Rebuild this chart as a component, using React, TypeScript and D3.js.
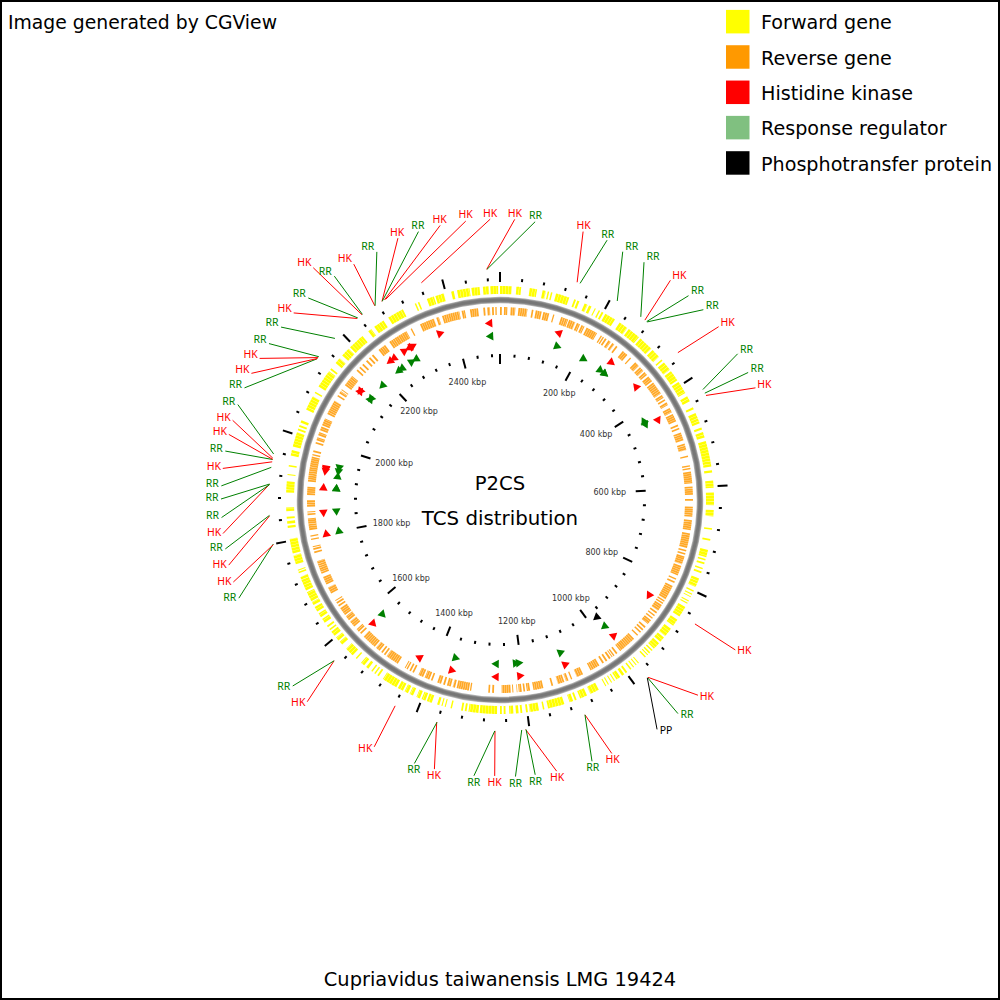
import React, { useEffect, useRef } from 'react';
import * as d3 from 'd3';

const genomeKbp = 2502;
const tickStep = 40;
const majorEvery = 200;

const legendNames = ['Forward gene', 'Reverse gene', 'Histidine kinase', 'Response regulator', 'Phosphotransfer protein'];
const legendColors = ['#ffff00', '#ff9900', '#ff0000', '#80c080', '#000000'];

// Gene blocks, degrees clockwise from the origin
const forwardGenes = [
  [0, 3.2], [4.4, 5.7], [8, 10], [11.5, 12.4], [12.9, 13.3], [13.8, 14.2], [15.2, 18.9], [20.3, 20.8], [21.2, 21.8],
  [23.3, 24.2], [24.6, 25.4], [26.3, 26.6], [27.5, 27.9], [28.4, 28.9], [29.5, 32.5], [34, 36.5], [37, 40.5], [41, 45],
  [45.5, 48], [49, 49.4], [50, 52.5], [53, 56], [56.5, 60], [61, 62.5], [64.3, 64.9], [66, 69], [70.2, 70.8], [71.5, 73],
  [74, 81], [82, 82.6], [84.8, 86.7], [88, 91.4], [92.7, 94.4], [97.6, 98], [100.5, 101], [103.5, 105.5], [106, 106.4],
  [107, 107.5], [108.5, 108.9], [109.5, 110], [111.5, 114], [115, 115.4], [116, 116.3], [116.8, 117], [118, 118.3],
  [118.7, 119], [120, 123], [124, 126], [127, 129.5], [130, 131.5], [132, 134], [134.5, 134.9], [135.4, 135.8], [136.2, 136.5],
  [137, 137.4], [139.5, 139.8], [140.3, 140.6], [141.2, 141.5], [142.1, 142.5], [143.5, 144], [144.5, 145.2], [145.8, 147],
  [147.5, 147.8], [148.4, 148.7], [149.4, 149.7], [150.2, 150.5], [152.5, 155], [156, 158], [159, 159.5], [160, 161],
  [162.5, 167], [168, 168.4], [169.5, 172], [172.5, 173], [174, 174.5], [175, 175.8], [176.4, 177.5], [178.5, 179], [179.5, 180],
  [180.8, 185.5], [185.8, 188.5], [189, 189.5], [190, 190.5], [193, 193.4], [194.7, 195], [195.6, 195.9], [196.5, 197.1],
  [198.6, 200], [200.4, 201.5], [202, 203], [204, 205], [205.5, 206.5], [207, 208.5], [209, 213.2], [214.5, 215], [215.6, 216],
  [216.6, 217], [218, 218.8], [219.4, 220.5], [222, 222.4], [223.5, 226], [227.5, 228.5], [229, 230], [230.6, 232],
  [232.5, 232.9], [233.5, 234], [235, 236.2], [236.8, 238], [238.6, 240], [240.6, 241.5], [241.8, 244.5], [245, 249],
  [250, 250.4], [250.7, 251], [252.5, 255], [255.5, 259.5], [262.5, 263.1], [263.6, 264.4], [265, 265.5], [267, 268],
  [272, 275], [276.7, 277], [279, 279.4], [282, 283.5], [284.5, 288.5], [289, 289.5], [290, 290.5], [291.2, 292], [295, 299],
  [300, 300.4], [302, 307], [307.5, 308], [309.8, 311.5], [312.5, 315], [315.5, 320], [322, 323], [324, 327], [328.5, 333],
  [336.5, 336.9], [337.4, 337.8], [340, 342], [342.4, 344.8], [346.8, 347.5], [348.4, 351.8], [352.3, 354.5], [355.4, 357], [357.4, 359.5]
];

const reverseGenes = [
  [0, 0.6], [1.2, 2.2], [3.2, 4.6], [5.5, 8.2], [9.5, 10], [10.7, 12.5], [13, 14.8], [16, 16.4], [18.5, 20.7], [21, 23], [23.5, 24.5],
  [25, 26], [26.7, 30.2], [31.5, 31.9], [32.2, 32.6], [33, 33.6], [34.2, 35], [35.6, 36.3], [37, 37.5], [39.5, 41.3], [42.4, 42.8],
  [44.5, 46], [46.5, 48], [48.5, 49.6], [50.2, 52], [52.5, 56.5], [57, 58], [58.5, 59], [59.6, 60.5], [61.5, 63], [63.5, 66],
  [67, 67.5], [68, 68.5], [69.5, 72], [73, 75], [76.7, 77.1], [79.6, 80], [80.4, 80.8], [81.5, 85], [86, 88.5], [89.7, 90.2],
  [92, 95], [96, 99], [100, 104.5], [105, 105.5], [106, 106.5], [107, 107.5], [107.5, 109.5], [110, 113], [114, 114.4], [115, 115.5],
  [116.5, 121], [121.4, 121.8], [122.2, 122.6], [123, 125], [125.5, 126], [126.6, 127], [127.6, 128], [128.5, 130], [131, 131.5],
  [132, 132.5], [133, 133.5], [134.3, 134.7], [136, 141.5], [142.5, 143], [143.6, 144], [144.3, 144.6], [145, 145.6], [146.2, 146.8],
  [147.4, 148], [149, 152], [154.5, 156.5], [158, 158.4], [159.2, 160], [160.5, 162.5], [164, 164.5], [167, 170], [171, 172],
  [172.5, 173], [173.5, 174.4], [174.8, 175], [176, 176.3], [176.8, 179.5], [181.8, 182.4], [183, 183.5], [188.6, 189], [189.3, 193],
  [193.5, 194.2], [194.8, 196], [196.6, 197.2], [197.8, 199], [200.5, 201], [201.5, 203], [203.5, 205], [206.5, 207], [207.5, 208],
  [208.6, 209], [209.3, 209.6], [212, 216], [216.5, 217], [217.5, 218], [218.6, 220], [220.5, 225], [226, 226.5], [227, 228],
  [229, 231], [231.5, 233], [233.4, 236], [236.5, 237], [237.5, 238], [238.4, 238.7], [241, 243], [244, 246.5], [247.5, 251.5],
  [254, 254.5], [255, 255.5], [255.8, 256.1], [258, 258.4], [259, 259.4], [261, 264.5], [265.5, 266], [266.3, 266.6], [268, 270],
  [271.5, 274], [275.5, 283], [283.4, 283.8], [284.4, 285], [287, 287.5], [288, 289], [289.6, 290.6], [291.2, 292.4], [292.8, 295],
  [296.5, 301], [302.5, 303], [303.6, 304.4], [304.7, 305], [306.5, 310], [312, 312.5], [313.2, 313.7], [314.4, 315], [316, 316.6],
  [317.2, 317.8], [318.4, 319], [321, 323.5], [325, 331], [332.4, 332.8], [335.5, 340], [340.7, 341.5], [342.5, 347.8], [348.5, 349.5],
  [351, 353.5], [355, 355.6], [356.2, 357], [357.6, 358.2], [358.6, 359]
];

// Two-component genes, clockwise, with their callouts
const tcsTypes = [
  'HK', 'RR', 'RR', 'RR', 'HK', 'RR', 'RR', 'HK', 'RR', 'RR', 'HK', 'HK', 'HK', 'RR', 'PP', 'HK', 'RR', 'HK', 'RR', 'RR',
  'HK', 'RR', 'HK', 'RR', 'HK', 'HK', 'RR', 'RR', 'HK', 'HK', 'RR', 'HK', 'RR', 'RR', 'RR', 'HK', 'RR', 'HK', 'HK', 'RR',
  'RR', 'HK', 'HK', 'RR', 'RR', 'HK', 'RR', 'HK', 'RR', 'HK', 'RR', 'HK', 'RR', 'HK', 'HK', 'HK', 'HK', 'RR'
];
const tcsKbp = [
  135.6, 141, 212, 261, 270, 274, 275, 350, 427, 434, 438.5, 851, 974, 975, 975.6, 1101, 1101, 1206.6, 1206, 1213.5,
  1259.6, 1260, 1361.5, 1361, 1438.6, 1570, 1570, 1800, 1799, 1849, 1850, 1903.6, 1903, 1904, 1933, 1942.6, 1946.7, 1947, 1949, 1956.4,
  2138.5, 2139, 2141, 2143, 2185, 2236.5, 2238, 2247, 2248, 2274, 2274.5, 2288.5, 2289, 2293.5, 2296, 2363.7, 2479, 2479.5
];
// 1 clockwise, -1 counter-clockwise
const tcsStrand = [
  -1, 1, 1, 1, 1, 1, 1, -1, -1, 1, 1, 1, -1, 1, 1, -1, -1, -1, -1, -1,
  1, 1, -1, -1, 1, -1, -1, 1, 1, -1, -1, 1, 1, 1, 1, -1, -1, -1, -1, -1,
  1, 1, -1, -1, -1, -1, -1, -1, -1, 1, 1, -1, -1, 1, 1, 1, -1, -1
];
const calloutDeg = [
  17.2, 22.4, 26.3, 31.2, 37.8, 42.7, 46.9, 51.6, 58.4, 62.8, 66.3, 122.5, 134.6, 140.2, 145.6, 156.2, 160.6, 168.2, 172.7, 176.8,
  181.1, 185.4, 193.7, 198, 207, 223.7, 228.1, 249.4, 252.9, 256.5, 259.9, 263.1, 266.4, 270.2, 272.9, 276.5, 280.1, 283.6, 286.6, 290,
  293.7, 297, 300.5, 304.1, 308.3, 312.2, 316.5, 321.2, 323.5, 328.2, 333.6, 338.7, 343.1, 347.7, 353, 358, 3, 7.2
];
const calloutR = [
  281, 281, 277, 278, 278, 278, 278.5, 279, 279, 279, 279, 279, 278, 278, 278, 277, 277, 277, 277, 277,
  276, 277, 277, 277, 277, 279, 278.5, 279, 279, 279, 279, 279, 279, 279, 279, 279, 279, 279, 279, 279,
  279, 279, 279, 279, 279, 278.5, 278.5, 298, 278.5, 277.5, 277, 281, 280.5, 281, 281, 281, 281, 280.5
];

const typeColor: Record<string, string> = { HK: '#ff0000', RR: '#008000', PP: '#000000' };
const typeRadius: Record<string, number> = { HK: 177, RR: 164, PP: 152 };

export default function App() {
  const svgRef = useRef<SVGSVGElement>(null);

  useEffect(() => {
    if (!svgRef.current) return;
    document.body.style.margin = '0';

    const font = '"DejaVu Sans", sans-serif';
    const svgRoot = d3.select(svgRef.current);
    svgRoot.selectAll('*').remove();

    svgRoot.append('rect')
      .attr('x', 1).attr('y', 1)
      .attr('width', 998).attr('height', 998)
      .attr('fill', 'white')
      .attr('stroke', 'black')
      .attr('stroke-width', 2);

    // Corner and footer text
    svgRoot.append('text')
      .attr('x', 8).attr('y', 29)
      .style('font-family', font).style('font-size', '18.8px')
      .text('Image generated by CGView');

    svgRoot.append('text')
      .attr('x', 500).attr('y', 986)
      .attr('text-anchor', 'middle')
      .style('font-family', font).style('font-size', '19.4px')
      .text('Cupriavidus taiwanensis LMG 19424');

    // Legend
    const legendY = d3.scalePoint<string>().domain(legendNames).range([21.7, 163]);
    const legend = svgRoot.append('g')
      .selectAll('g')
      .data(legendNames)
      .enter()
      .append('g')
      .attr('transform', (d) => 'translate(726,' + legendY(d) + ')');
    legend.append('rect')
      .attr('x', 0).attr('y', -11.8)
      .attr('width', 23.5).attr('height', 23.5)
      .attr('fill', (d, i) => legendColors[i]);
    legend.append('text')
      .attr('x', 35).attr('y', 1)
      .attr('dy', '0.35em')
      .style('font-family', font).style('font-size', '19.15px')
      .text((d) => d);

    // Map
    const svg = svgRoot.append('g').attr('transform', 'translate(500,500)');
    const kbpAngle = d3.scaleLinear().domain([0, genomeKbp]).range([0, 2 * Math.PI]);
    const degAngle = d3.scaleLinear().domain([0, 360]).range([0, 2 * Math.PI]);

    // Gene bands are stroked so that the dash leaves hairlines between the genes
    const geneBand = (r: number) => (d: number[]) => {
      const path = d3.path();
      path.arc(0, 0, r, degAngle(d[0]) - Math.PI / 2, degAngle(d[1]) - Math.PI / 2);
      return path.toString();
    };

    svg.append('g').selectAll('path')
      .data(forwardGenes).enter().append('path')
      .attr('d', geneBand(210))
      .attr('fill', 'none')
      .attr('stroke', '#ffff00')
      .attr('stroke-width', 8)
      .attr('stroke-dasharray', '2.6 0.3');

    svg.append('g').selectAll('path')
      .data(reverseGenes).enter().append('path')
      .attr('d', geneBand(189))
      .attr('fill', 'none')
      .attr('stroke', '#ff9900')
      .attr('stroke-width', 8)
      .attr('stroke-opacity', 0.85)
      .attr('stroke-dasharray', '1.8 0.3');

    // Backbone, soft at the edges
    [[6.5, '#b4b4b4'], [5, '#8c8c8c'], [3, '#777777']].forEach(([w, c]) => {
      svg.append('circle')
        .attr('r', 200)
        .attr('fill', 'none')
        .attr('stroke', c as string)
        .attr('stroke-width', w as number);
    });

    // Tick marks on the two rulers
    const tickKbp = d3.range(0, genomeKbp, tickStep);
    const drawRuler = (minor: number[], major: number[]) => {
      svg.append('g').selectAll('line')
        .data(tickKbp).enter().append('line')
        .each(function (d) {
          const a = kbpAngle(d);
          const [r0, r1] = d % majorEvery === 0 ? major : minor;
          const p0 = d3.pointRadial(a, r0);
          const p1 = d3.pointRadial(a, r1);
          d3.select(this)
            .attr('x1', p0[0]).attr('y1', p0[1])
            .attr('x2', p1[0]).attr('y2', p1[1]);
        })
        .attr('stroke', 'black')
        .attr('stroke-width', 2);
    };
    drawRuler([219, 222], [218, 228]);
    drawRuler([143, 146], [136, 146]);

    // Ruler labels sit inside the inner ruler
    svg.append('g').selectAll('text')
      .data(tickKbp.filter((d) => d > 0 && d % majorEvery === 0))
      .enter().append('text')
      .each(function (d) {
        const a = kbpAngle(d);
        const s = Math.sin(a);
        const c = Math.cos(a);
        const p = d3.pointRadial(a, 135);
        d3.select(this)
          .attr('x', p[0] - 25 * s * Math.abs(s))
          .attr('y', p[1] + 13 * c);
      })
      .attr('text-anchor', 'middle')
      .attr('dy', '0.35em')
      .attr('fill', '#333333')
      .style('font-family', font)
      .style('font-size', '8px')
      .text((d) => d + ' kbp');

    const tcs = tcsKbp.map((kbp, i) => ({
      kbp,
      type: tcsTypes[i],
      strand: tcsStrand[i],
      deg: calloutDeg[i],
      r: calloutR[i]
    }));

    // Arrowheads on the feature tracks
    const arrow = d3.symbol().type(d3.symbolTriangle).size(32);
    svg.append('g').selectAll('path')
      .data(tcs).enter().append('path')
      .attr('d', arrow())
      .attr('fill', (d) => typeColor[d.type])
      .attr('transform', (d) => {
        const a = kbpAngle(d.kbp);
        const p = d3.pointRadial(a, typeRadius[d.type]);
        const deg = (a * 180) / Math.PI + (d.strand > 0 ? 90 : -90);
        return 'translate(' + p[0] + ',' + p[1] + ') rotate(' + deg + ')';
      });

    // Leader lines and labels
    svg.append('g').selectAll('line')
      .data(tcs).enter().append('line')
      .each(function (d) {
        const p0 = d3.pointRadial(kbpAngle(d.kbp), 231);
        const p1 = d3.pointRadial(degAngle(d.deg), d.r);
        d3.select(this)
          .attr('x1', p0[0]).attr('y1', p0[1])
          .attr('x2', p1[0]).attr('y2', p1[1]);
      })
      .attr('stroke', (d) => typeColor[d.type])
      .attr('stroke-width', 1);

    svg.append('g').selectAll('text')
      .data(tcs).enter().append('text')
      .each(function (d) {
        const a = degAngle(d.deg);
        const s = Math.sin(a);
        const c = Math.cos(a);
        const p = d3.pointRadial(a, d.r);
        // Labels hang off the end of the leader like a box off a circle
        const steep = Math.abs(s) < 0.42;
        const dx = steep ? 2 * s : 9 * Math.sign(s);
        const dy = steep ? -6.3 * Math.sign(c) : -2 - 4 * c;
        d3.select(this)
          .attr('x', p[0] + dx)
          .attr('y', p[1] + dy);
      })
      .attr('text-anchor', 'middle')
      .attr('dy', '0.35em')
      .attr('fill', (d) => typeColor[d.type])
      .style('font-family', '"Noto Sans", sans-serif')
      .style('font-size', '10.5px')
      .text((d) => d.type);

    // Title in the middle
    svg.append('text')
      .attr('y', -17).attr('dy', '0.35em')
      .attr('text-anchor', 'middle')
      .style('font-family', font).style('font-size', '19.6px')
      .text('P2CS');
    svg.append('text')
      .attr('y', 18).attr('dy', '0.35em')
      .attr('text-anchor', 'middle')
      .style('font-family', font).style('font-size', '19.8px')
      .text('TCS distribution');
  }, []);

  return <svg ref={svgRef} width={1000} height={1000} style={{ display: 'block' }} />;
}
